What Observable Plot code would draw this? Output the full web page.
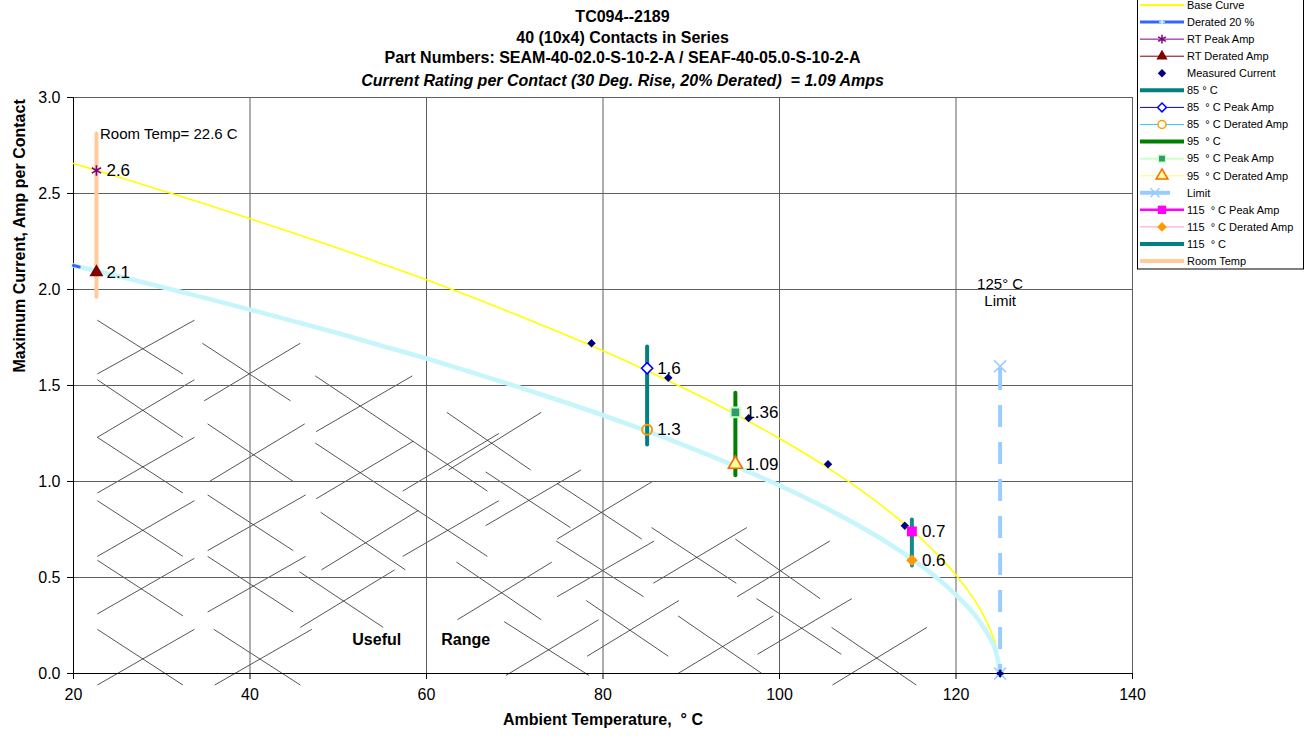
<!DOCTYPE html>
<html>
<head>
<meta charset="utf-8">
<script src="https://cdn.jsdelivr.net/npm/d3@7"></script>
<script src="https://cdn.jsdelivr.net/npm/@observablehq/plot@0.6"></script>
<style>
  html, body { margin: 0; padding: 0; background: #fff; }
  #wrap { position: relative; width: 1304px; height: 738px; overflow: hidden; font-family: "Liberation Sans", Arial, sans-serif; }
  #wrap svg { display: block; }
</style>
</head>
<body>
<div id="wrap"></div>
<script>
// ---------- DATA ----------
const titleLines = [
  "TC094--2189",
  "40 (10x4) Contacts in Series",
  "Part Numbers: SEAM-40-02.0-S-10-2-A / SEAF-40-05.0-S-10-2-A",
  "Current Rating per Contact (30 Deg. Rise, 20% Derated)  = 1.09 Amps"
];
const xTitle = "Ambient Temperature,\u00a0\u00a0° C";
const yTitle = "Maximum Current, Amp per Contact";
const xTicks = [20, 40, 60, 80, 100, 120, 140];
const yTicks = [0, 0.5, 1, 1.5, 2, 2.5, 3];

// Base curve and 20% derated curve
const curveT   = [20, 25, 30, 35, 40, 45, 50, 55, 60, 65, 70, 75, 80, 85, 90, 95, 100, 105, 110, 115, 118, 120, 122, 123, 124, 124.5, 125];
const baseI    = [2.656, 2.587, 2.516, 2.444, 2.369, 2.293, 2.215, 2.133, 2.051, 1.963, 1.873, 1.779, 1.681, 1.577, 1.467, 1.350, 1.224, 1.085, 0.929, 0.746, 0.615, 0.513, 0.390, 0.313, 0.215, 0.148, 0];
const deratedI = [2.125, 2.070, 2.013, 1.955, 1.895, 1.834, 1.772, 1.706, 1.641, 1.570, 1.498, 1.423, 1.345, 1.262, 1.174, 1.080, 0.979, 0.868, 0.743, 0.597, 0.492, 0.410, 0.312, 0.250, 0.172, 0.118, 0];

// Measured current
const measuredT = [78.7, 87.4, 96.5, 105.5, 114.2, 125];
const measuredI = [1.72, 1.54, 1.33, 1.09, 0.77, 0];

// Vertical bars: Room temp, 85, 95, 115
const barT    = [22.6, 85, 95, 115];
const barLow  = [1.96, 1.19, 1.03, 0.56];
const barHigh = [2.81, 1.70, 1.46, 0.80];

// Peak / derated points
const peakT    = [22.6, 85, 95, 115];
const peakI    = [2.62, 1.59, 1.36, 0.74];
const deratT   = [22.6, 85, 95, 115];
const deratI   = [2.09, 1.27, 1.09, 0.59];
const peakLabels  = ["2.6", "1.6", "1.36", "0.7"];
const deratLabels = ["2.1", "1.3", "1.09", "0.6"];

// Limit
const limitT = [125];
const limitTop = [1.6];
const limitBottom = [0];

// Annotations
const roomTempText = "Room Temp= 22.6 C";
const roomTempPos = [23.0, 2.81];
const limitText = ["125° C", "Limit"];
const limitTextI = [2.03, 1.94];
const usefulText = "Useful\u00a0\u00a0\u00a0\u00a0\u00a0\u00a0\u00a0\u00a0\u00a0Range";
const usefulPos = [59.4, 0.173];

// Hatch segments [T1, I1, T2, I2]
const hatchSegments = [
  [22.7,1.84,32.4,1.56],[22.7,1.56,33.7,1.84],[22.7,1.53,32.4,1.23],[22.7,1.23,33.7,1.53],
  [22.7,1.23,32.4,0.94],[22.7,0.94,33.7,1.23],[22.7,0.90,32.4,0.61],[22.7,0.61,33.7,0.90],
  [22.7,0.59,32.4,0.30],[22.7,0.31,33.7,0.60],[22.7,0.23,32.4,-0.06],[22.7,-0.06,33.7,0.23],
  [34.6,1.72,44.6,1.42],[34.8,1.42,45.7,1.72],[35.2,1.30,44.9,1.00],[35.4,1.00,46.2,1.30],
  [35.2,0.93,44.9,0.64],[35.2,0.64,46.3,0.93],[35.2,0.61,44.9,0.32],[35.2,0.32,46.3,0.61],
  [35.9,0.23,45.7,-0.06],[36.0,-0.06,47.0,0.23],
  [47.4,1.55,66.9,0.95],[47.5,1.26,58.4,1.55],[47.4,1.20,66.9,0.61],[47.5,0.91,58.5,1.21],
  [48.0,0.84,57.6,0.54],[48.1,0.54,59.1,0.85],[45.6,0.53,55.1,0.24],[45.7,0.24,56.4,0.54],
  [62.3,1.36,71.8,1.06],[62.5,1.06,73.0,1.36],[57.3,0.95,68.2,1.25],[66.7,1.05,76.3,0.76],
  [66.7,0.77,77.5,1.06],[57.3,0.61,68.2,0.90],[63.4,0.58,73.0,0.28],[63.5,0.28,74.2,0.58],
  [68.8,0.27,78.4,-0.01],[69.0,-0.01,79.5,0.28],
  [74.8,0.99,84.4,0.70],[74.8,0.70,85.6,1.00],[74.7,0.69,84.6,0.40],[74.8,0.40,85.8,0.69],
  [85.5,0.76,95.1,0.47],[85.7,0.47,96.3,0.76],[95.0,0.70,104.6,0.39],[95.2,0.40,105.7,0.69],
  [78.1,0.38,87.4,0.09],[78.2,0.09,88.6,0.38],[88.5,0.30,98.0,0.00],[88.5,0.00,99.3,0.30],
  [97.4,0.39,107.0,0.10],[97.5,0.10,108.2,0.39],[105.9,0.24,115.5,-0.06],[106.0,-0.06,116.7,0.24]
];

// Legend entries
const legendNames = ["Base Curve","Derated 20 %","RT Peak Amp","RT Derated Amp","Measured Current","85 ° C","85  ° C Peak Amp","85  ° C Derated Amp","95  ° C","95  ° C Peak Amp","95  ° C Derated Amp","Limit","115  ° C Peak Amp","115  ° C Derated Amp","115  ° C","Room Temp"];

// ---------- TABLES ----------
const baseData = curveT.map((t, i) => ({t, v: baseI[i]}));
const deratedData = curveT.map((t, i) => ({t, v: deratedI[i]}));
const measuredData = measuredT.map((t, i) => ({t, v: measuredI[i]}));

const font = '"Liberation Sans", Arial, sans-serif';
const barColors = ["#ffcc99", "#008080", "#008000", "#138a8a"];

const barMarks = barT.map((t, k) => Plot.ruleX([k], {
  x: i => barT[i], y1: i => barLow[i], y2: i => barHigh[i],
  stroke: barColors[k], strokeWidth: 4, strokeLinecap: "round"
}));

const pt = (arrT, arrI, k, opts) => Plot.dot([k], Object.assign({x: i => arrT[i], y: i => arrI[i]}, opts));

const chart = Plot.plot({
  width: 1304, height: 738,
  marginTop: 97, marginBottom: 65, marginLeft: 73, marginRight: 172,
  style: {fontFamily: font, fontSize: "16px", background: "white", color: "#000"},
  x: {domain: [20, 140], label: null},
  y: {domain: [0, 3], label: null},
  marks: [
    Plot.link(hatchSegments, {x1: d => d[0], y1: d => d[1], x2: d => d[2], y2: d => d[3], stroke: "#2a2a2a", strokeWidth: 0.8}),
    Plot.gridX({ticks: xTicks, stroke: "#5f5f5f", strokeOpacity: 1, strokeWidth: 1}),
    Plot.gridY({ticks: yTicks, stroke: "#5f5f5f", strokeOpacity: 1, strokeWidth: 1}),
    Plot.ruleX([20], {stroke: "#000", strokeWidth: 1}),
    Plot.ruleY([0], {stroke: "#000", strokeWidth: 1}),
    Plot.axisX({ticks: xTicks, tickSize: 6, tickPadding: 9, label: null, fontSize: 16}),
    Plot.axisY({ticks: yTicks, tickSize: 6, tickPadding: 7, label: null, fontSize: 16, tickFormat: d3.format(".1f")}),
    // curves
    Plot.line(baseData, {x: "t", y: "v", stroke: "#ffff00", strokeWidth: 1.6, curve: "catmull-rom"}),
    Plot.line(deratedData, {x: "t", y: "v", stroke: "#3366ff", strokeWidth: 3, curve: "catmull-rom"}),
    Plot.line(deratedData, {x: "t", y: "v", stroke: "#c6f6fc", strokeWidth: 4.6, curve: "catmull-rom"}),
    Plot.line(deratedData, {x: "t", y: "v", stroke: "#3366ff", strokeWidth: 3, curve: "catmull-rom", strokeDasharray: "6,5000"}),
    // limit
    Plot.ruleX([0], {x: i => limitT[i], y1: i => limitBottom[i], y2: i => limitTop[i], stroke: "#99ccff", strokeWidth: 4, strokeDasharray: "22,15", strokeDashoffset: 13}),
    // bars
    ...barMarks,
    // measured
    Plot.dot(measuredData, {x: "t", y: "v", symbol: "diamond2", r: 3.8, fill: "#000080", stroke: "none"}),
    // limit markers
    Plot.dot([0], {x: i => limitT[i], y: i => limitTop[i], symbol: "times", r: 5.5, stroke: "#99ccff", strokeWidth: 1.6}),
    Plot.dot([0], {x: i => limitT[i], y: i => limitBottom[i], symbol: "times", r: 5.5, stroke: "#99ccff", strokeWidth: 1.6}),
    Plot.dot(measuredData.slice(-1), {x: "t", y: "v", symbol: "diamond2", r: 3, fill: "#000080", stroke: "none"}),
    // RT
    pt(peakT, peakI, 0, {symbol: "asterisk", r: 5, stroke: "#800080", strokeWidth: 1.6, fill: "none"}),
    pt(deratT, deratI, 0, {symbol: "triangle", r: 5.2, fill: "#800000", stroke: "none"}),
    // 85
    pt(peakT, peakI, 1, {symbol: "diamond2", r: 5, fill: "white", stroke: "#0000ff", strokeWidth: 1.6}),
    pt(deratT, deratI, 1, {symbol: "circle", r: 5, fill: "none", stroke: "#ff9900", strokeWidth: 2}),
    // 95
    pt(peakT, peakI, 2, {symbol: "square", r: 5.4, fill: "#339966", stroke: "#ccffcc", strokeWidth: 2}),
    pt(deratT, deratI, 2, {symbol: "triangle", r: 5.2, fill: "#ffff99", stroke: "#ff6600", strokeWidth: 1.6}),
    // 115
    pt(peakT, peakI, 3, {symbol: "square", r: 5.6, fill: "#ff00ff", stroke: "none"}),
    pt(deratT, deratI, 3, {symbol: "diamond2", r: 5.2, fill: "#ff9900", stroke: "none"}),
    // value labels
    Plot.text(peakLabels, {x: (d, i) => peakT[i], y: (d, i) => peakI[i], text: d => d, dx: 10, textAnchor: "start", fontSize: 17, fill: "#000"}),
    Plot.text(deratLabels, {x: (d, i) => deratT[i], y: (d, i) => deratI[i], text: d => d, dx: 10, textAnchor: "start", fontSize: 17, fill: "#000"}),
    // annotations
    Plot.text([roomTempText], {x: roomTempPos[0], y: roomTempPos[1], text: d => d, textAnchor: "start", fontSize: 15}),
    Plot.text(limitText, {x: limitT[0], y: (d, i) => limitTextI[i], text: d => d, fontSize: 15}),
    Plot.text([usefulText], {x: usefulPos[0], y: usefulPos[1], text: d => d, fontSize: 16, fontWeight: "bold"}),
    // titles
    Plot.text([titleLines[0]], {text: d => d, frameAnchor: "top", dx: 19.5, dy: -87, fontSize: 16, fontWeight: "bold"}),
    Plot.text([titleLines[1]], {text: d => d, frameAnchor: "top", dx: 19.5, dy: -66, fontSize: 16, fontWeight: "bold"}),
    Plot.text([titleLines[2]], {text: d => d, frameAnchor: "top", dx: 19.5, dy: -46, fontSize: 16, fontWeight: "bold"}),
    Plot.text([titleLines[3]], {text: d => d, frameAnchor: "top", dx: 19.5, dy: -23, fontSize: 16, fontWeight: "bold", fontStyle: "italic"}),
    // axis titles
    Plot.text([xTitle], {text: d => d, frameAnchor: "bottom", dy: 51, fontSize: 16, fontWeight: "bold"}),
    Plot.text([yTitle], {text: d => d, frameAnchor: "left", dx: -54, dy: -13, rotate: -90, fontSize: 16, fontWeight: "bold"})
  ]
});
const wrap = document.getElementById("wrap");
wrap.appendChild(chart);

// ---------- LEGEND ----------
const legendStyles = [
  {line: "#ffff00", w: 2},
  {line: "#3366ff", w: 3, sym: d3.symbolPlus, symStroke: "#ccffff", size: 12},
  {line: "#800080", w: 1, sym: d3.symbolAsterisk, symStroke: "#800080", size: 55},
  {line: "#800000", w: 1, sym: d3.symbolTriangle, symFill: "#800000", size: 55},
  {sym: d3.symbolDiamond2, symFill: "#000080", size: 45},
  {line: "#008080", w: 4},
  {line: "#0000ff", w: 1, sym: d3.symbolDiamond2, symStroke: "#0000ff", symFill: "white", size: 50},
  {line: "#33ccff", w: 1, sym: d3.symbolCircle, symStroke: "#ff9900", symFill: "white", size: 50},
  {line: "#008000", w: 4},
  {line: "#ccffcc", w: 2, sym: d3.symbolSquare, symFill: "#339966", symStroke: "#ccffcc", size: 55},
  {line: "#ffff99", w: 1.5, sym: d3.symbolTriangle, symFill: "#ffff99", symStroke: "#ff6600", size: 60},
  {line: "#99ccff", w: 4, x2: 34, sym: d3.symbolTimes, symStroke: "#99ccff", size: 55},
  {line: "#ff00ff", w: 2.5, sym: d3.symbolSquare, symFill: "#ff00ff", size: 70},
  {line: "#ff99cc", w: 1, sym: d3.symbolDiamond2, symFill: "#ff9900", size: 60},
  {line: "#008080", w: 4},
  {line: "#ffcc99", w: 4}
];
const lg = d3.create("svg")
  .attr("width", 168).attr("height", 280)
  .style("position", "absolute").style("left", "1136px").style("top", "-5px")
  .style("font-family", font).style("font-size", "11px");
lg.append("rect").attr("x", 1.5).attr("y", 0.5).attr("width", 166).attr("height", 273.5)
  .attr("fill", "white").attr("stroke", "#000").attr("stroke-width", 1);
legendNames.forEach((name, i) => {
  const s = legendStyles[i];
  const y = 10 + i * 17.07;
  if (s.line) {
    lg.append("line").attr("x1", 4).attr("x2", s.x2 || 48).attr("y1", y).attr("y2", y)
      .attr("stroke", s.line).attr("stroke-width", s.w);
  }
  if (s.sym) {
    const cx = s.x2 ? (4 + s.x2) / 2 : 26;
    lg.append("path").attr("d", d3.symbol(s.sym, s.size)())
      .attr("transform", `translate(${cx},${y})`)
      .attr("fill", s.symFill || "none")
      .attr("stroke", s.symStroke || "none")
      .attr("stroke-width", s.symStroke ? 1.5 : 0);
  }
  lg.append("text").attr("x", 51).attr("y", y).attr("dy", "0.35em")
    .attr("fill", "#000").style("white-space", "pre").attr("xml:space", "preserve").text(name);
});
wrap.appendChild(lg.node());
</script>
</body>
</html>
